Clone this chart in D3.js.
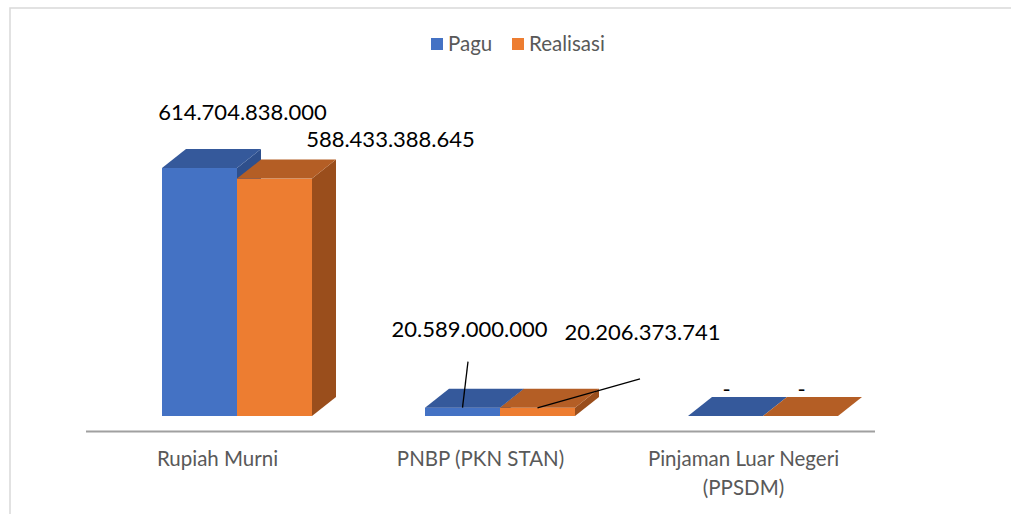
<!DOCTYPE html>
<html>
<head>
<meta charset="utf-8">
<script src="https://cdn.jsdelivr.net/npm/d3@7"></script>
<style>
  body { margin: 0; background: #fff; }
  svg { display: block; font-family: Lato, "Open Sans", sans-serif; }
</style>
</head>
<body>
<svg id="chart" width="1011" height="514"></svg>
<script>
// chart data
var categories = ["Rupiah Murni", "PNBP (PKN STAN)", "Pinjaman Luar Negeri (PPSDM)"];
var categoryLines = [["Rupiah Murni"], ["PNBP (PKN STAN)"], ["Pinjaman Luar Negeri", "(PPSDM)"]];
var seriesNames = ["Pagu", "Realisasi"];
var pagu = [614704838000, 20589000000, 0];
var realisasi = [588433388645, 20206373741, 0];

// styling
var FRONT = ["#4472C4", "#ED7D31"];
var TOP = ["#35599B", "#B45E25"];
var SIDE = ["#2E4F8C", "#9A4E1C"];
var BAR_W = 75, DX = 24, DY = -19, SHIFT = 19.5;
var BASE = 416;

// label offsets from the front-top centre of each bar (moved by hand in the original)
var labelOffsets = [
	[{dx: 43, dy: -48}, {dx: 116, dy: -32}],
	[{dx: 7, dy: -71, lead: [-1.5, 25]}, {dx: 105, dy: -68, lead: [-2.5, 39]}],
	[{dx: 1, dy: -19}, {dx: 1, dy: -19}]
];

var svg = d3.select("#chart");

// chart border
svg.append("rect")
	.attr("x", 10).attr("y", 8)
	.attr("width", 1200).attr("height", 700)
	.attr("fill", "none")
	.attr("stroke", "#d9d9d9")
	.attr("stroke-width", 1.5);

var x = d3.scaleBand().domain(categories).range([86, 875]);
var y = d3.scaleLinear().domain([0, 700e9]).range([BASE, BASE - 282.4]);

// flatten into bar records
var bars = [];
categories.forEach(function(c, i) {
	[pagu[i], realisasi[i]].forEach(function(v, s) {
		var x0 = x(c) + x.bandwidth() / 2 + SHIFT - BAR_W + s * BAR_W;
		bars.push({cat: i, series: s, value: v, x0: x0, top: y(v)});
	});
});

var fmt = function(v) {
	if (v === 0) return "-";
	return d3.format(",")(v).replace(/,/g, ".");
};

var barG = svg.selectAll(".bar3d")
	.data(bars)
	.enter()
	.append("g")
	.classed("bar3d", true);

// front face
barG.append("rect")
	.attr("x", function(d) { return d.x0; })
	.attr("y", function(d) { return d.top; })
	.attr("width", BAR_W)
	.attr("height", function(d) { return BASE - d.top; })
	.attr("fill", function(d) { return FRONT[d.series]; });

// side face
barG.append("path")
	.attr("d", function(d) {
		var r = d.x0 + BAR_W;
		return "M" + r + "," + d.top + "L" + (r + DX) + "," + (d.top + DY) +
			"L" + (r + DX) + "," + (BASE + DY) + "L" + r + "," + BASE + "Z";
	})
	.attr("fill", function(d) { return SIDE[d.series]; });

// top face
barG.append("path")
	.attr("d", function(d) {
		return "M" + d.x0 + "," + d.top + "L" + (d.x0 + DX) + "," + (d.top + DY) +
			"L" + (d.x0 + BAR_W + DX) + "," + (d.top + DY) + "L" + (d.x0 + BAR_W) + "," + d.top + "Z";
	})
	.attr("fill", function(d) { return TOP[d.series]; });

// axis line
svg.append("line")
	.attr("x1", x.range()[0]).attr("x2", x.range()[1])
	.attr("y1", 431.5).attr("y2", 431.5)
	.attr("stroke", "#a0a0a0")
	.attr("stroke-width", 2);

// category labels
var catText = svg.selectAll(".cat-label")
	.data(categories)
	.enter()
	.append("text")
	.classed("cat-label", true)
	.attr("text-anchor", "middle")
	.attr("font-size", 20.5)
	.attr("fill", "#595959")
	.attr("x", function(d) { return x(d) + x.bandwidth() / 2; })
	.attr("y", 466);
catText.selectAll("tspan")
	.data(function(d, i) { return categoryLines[i]; })
	.enter()
	.append("tspan")
	.attr("x", function() { var c = this.parentNode.__data__; return x(c) + x.bandwidth() / 2; })
	.attr("dy", function(d, i) { return i === 0 ? 0 : 29; })
	.text(function(d) { return d; });

// data labels + leader lines
bars.forEach(function(d) {
	var off = labelOffsets[d.cat][d.series];
	var cx = d.x0 + BAR_W / 2;
	var lx = cx + off.dx, ly = d.top + off.dy;
	if (off.lead) {
		svg.append("line")
			.attr("x1", lx + off.lead[0]).attr("y1", ly + off.lead[1])
			.attr("x2", cx).attr("y2", d.top)
			.attr("stroke", "#000")
			.attr("stroke-width", 1.3);
	}
	svg.append("text")
		.attr("x", lx).attr("y", ly)
		.attr("text-anchor", "middle")
		.attr("font-size", 22)
		.attr("fill", "#000")
		.text(fmt(d.value));
});

// legend
var legend = svg.selectAll(".legend-item")
	.data(seriesNames)
	.enter()
	.append("g")
	.classed("legend-item", true)
	.attr("transform", function(d, i) { return "translate(" + (i === 0 ? 431 : 512) + ",38)"; });
legend.append("rect")
	.attr("width", 12).attr("height", 12)
	.attr("fill", function(d, i) { return FRONT[i]; });
legend.append("text")
	.attr("x", 17).attr("y", 12.5)
	.attr("font-size", 20.5)
	.attr("fill", "#595959")
	.text(function(d) { return d; });
</script>
</body>
</html>
